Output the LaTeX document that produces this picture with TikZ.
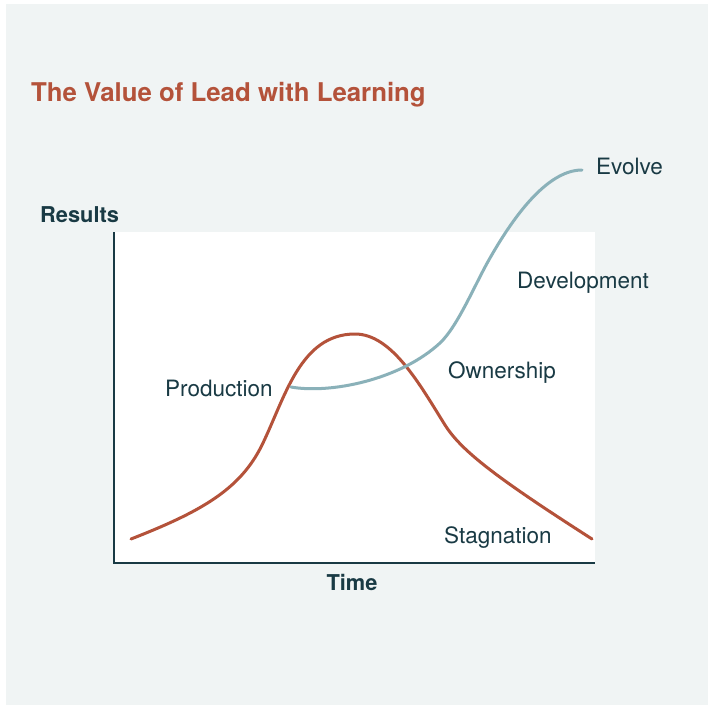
\documentclass[tikz,border=0pt]{standalone}
\usepackage{fontspec}
\setmainfont{TeX Gyre Heros}
\definecolor{panelbg}{HTML}{F0F4F4}
\definecolor{rust}{HTML}{B4523A}
\definecolor{steel}{HTML}{8AB1B9}
\definecolor{ink}{HTML}{193A44}
\tikzset{
    label/.style={anchor=base west, inner sep=0pt, text=ink, font=\fontsize{22.5}{27}\selectfont},
    axislabel/.style={label, font=\fontsize{21.8}{26}\selectfont\bfseries},
    curve/.style={line width=3pt, line cap=round}
}

\begin{document}
\begin{tikzpicture}[x=1pt, y=-1pt]
    \useasboundingbox (0,0) rectangle (708,706);
    \fill[panelbg] (6,4) rectangle (708,705);
    \fill[white] (114,232) rectangle (595,563);

    \node[label, text=rust, font=\fontsize{25.8}{31}\selectfont\bfseries] (title) at (31,102) {The Value of Lead with Learning};

    % axes
    \coordinate (origin) at (114,563);
    \coordinate (ytop) at (114,232);
    \coordinate (xend) at (595,563);
    \draw[ink, line width=2pt] (ytop) -- (origin) -- (xend);
    \node[axislabel] (results) at (40,222) {Results};
    \node[axislabel, anchor=base] (time) at (352,590) {Time};

    % curves
    \draw[curve, rust] (131,539) .. controls (200,512) and (240,490) .. (262,445)
        .. controls (285,398) and (300,334) .. (355,334)
        .. controls (392,334) and (420,385) .. (445,425)
        .. controls (462,452) and (500,480) .. (592,539);
    \draw[curve, steel] (291,387) .. controls (330,394) and (400,380) .. (440,343)
        .. controls (458,326) and (475,284) .. (490,258)
        .. controls (510,223) and (545,170) .. (582,170);

    % phase labels
    \node[label] (production) at (165,396) {Production};
    \node[label] (ownership) at (448,378) {Ownership};
    \node[label] (development) at (517,288) {Development};
    \node[label] (evolve) at (596,174) {Evolve};
    \node[label] (stagnation) at (444,543) {Stagnation};
\end{tikzpicture}
\end{document}
